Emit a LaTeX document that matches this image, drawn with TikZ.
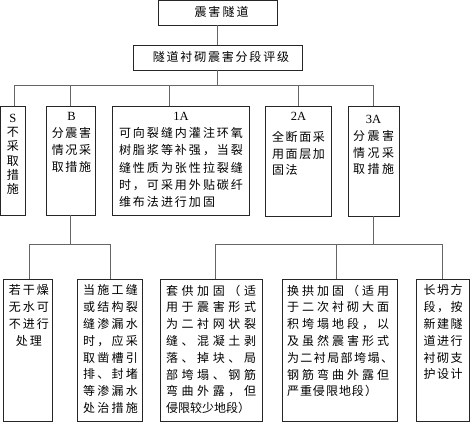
\documentclass[tikz,border=0pt]{standalone}
\usepackage{fontspec}
\setmainfont{Liberation Serif}
\newfontfamily\cjk{Noto Sans CJK SC}
\newcommand\st{\rule[-3pt]{0pt}{11pt}}
\newcommand\lat[1]{{\rmfamily\fontsize{12.5}{14}\selectfont #1}\st}
\ExplSyntaxOn
\NewDocumentCommand\SPline{O{1.6pt}m}{\st \tl_map_inline:nn {#2}{##1\hspace{#1}}\unskip}
\NewDocumentCommand\JUline{mm}{\makebox[#1][s]{\st \tl_map_inline:nn {#2}{##1\hfil}\unskip}}
\ExplSyntaxOff
\begin{document}
\begin{tikzpicture}[x=1pt,y=-1pt,
  box/.style={draw=black!85, line width=0.9pt, inner sep=0pt, font=\cjk\fontsize{12}{14}\selectfont},
  conn/.style={draw=black!60, line width=0.8pt},
  txt/.style={inner sep=0pt, anchor=north, font=\cjk\fontsize{12}{#1}\selectfont},
  txt/.default=16.8]
\useasboundingbox (0,0) rectangle (470,423);
% boxes
\node[box, minimum width=119pt, minimum height=24.5pt] (n0) at (217.5,12.75) {\hspace*{8pt}\SPline[2pt]{震害隧道}};
\node[box, minimum width=169pt, minimum height=25pt] (n1) at (217.5,57.5) {\hspace*{7pt}\SPline[1.8pt]{隧道衬砌震害分段评级}};
\node[box, minimum width=24.5pt, minimum height=109pt] (bS) at (12.75,160.5) {};
\node[box, minimum width=49pt, minimum height=109pt] (bB) at (70.5,160.5) {};
\node[box, minimum width=137pt, minimum height=109pt] (b1A) at (180.5,160.5) {};
\node[box, minimum width=66pt, minimum height=110pt] (b2A) at (298,161) {};
\node[box, minimum width=51pt, minimum height=110pt] (b3A) at (373.5,161) {};
\node[box, minimum width=49pt, minimum height=142pt] (c1) at (27.5,350) {};
\node[box, minimum width=65pt, minimum height=142pt] (c2) at (109.5,350) {};
\node[box, minimum width=102pt, minimum height=142pt] (c3) at (211,350) {};
\node[box, minimum width=115pt, minimum height=142pt] (c4) at (339.5,350) {};
\node[box, minimum width=53.5pt, minimum height=142pt] (c5) at (442.75,350) {};
% texts
\node[txt=14.2, align=center] (tS) at (12.75,114) {\lat{S}\\\SPline{不}\\\SPline{采}\\\SPline{取}\\\SPline{措}\\\SPline{施}};
\node[txt=17, align=center] (tB) at (71.5,112) {\lat{B}\\\SPline{分震害}\\\SPline{情况采}\\\SPline{取措施}};
\node[txt=17.2, align=center] (t1A) at (181,112) {\lat{1A}\\
  \JUline{124pt}{可向裂缝内灌注环氧}\\
  \JUline{124pt}{树脂浆等补强，当裂}\\
  \JUline{124pt}{缝性质为张性拉裂缝}\\
  \JUline{124pt}{时，可采用外贴碳纤}\\
  \makebox[124pt][l]{\SPline[2pt]{维布法进行加固}}};
\node[txt, align=center] (t2A) at (298.5,112) {\lat{2A}\\[4pt]
  \JUline{53pt}{全断面采}\\
  \JUline{53pt}{用面层加}\\
  \makebox[53pt][l]{\SPline[1.7pt]{固法}}};
\node[txt, align=center] (t3A) at (373.5,115) {\lat{3A}\\
  \JUline{41pt}{分震害}\\\JUline{41pt}{情况采}\\\JUline{41pt}{取措施}};
\node[txt, align=center] (tc1) at (29,284.6) {\SPline[2pt]{若干燥}\\\SPline[2pt]{无水可}\\\SPline[2pt]{不进行}\\\SPline[2pt]{处理}};
\node[txt, align=center] (tc2) at (110.5,284.6) {\SPline[2.3pt]{当施工缝}\\\SPline[2.3pt]{或结构裂}\\\SPline[2.3pt]{缝渗漏水}\\\SPline[2.3pt]{时，应采}\\\SPline[2.3pt]{取凿槽引}\\\SPline[2.3pt]{排、封堵}\\\SPline[2.3pt]{等渗漏水}\\\SPline[2.3pt]{处治措施}};
\node[txt, align=left] (tc3) at (211,284.6) {\JUline{90pt}{套供加固（适}\\
  \JUline{90pt}{用于震害形式}\\
  \JUline{90pt}{为二衬网状裂}\\
  \JUline{90pt}{缝、混凝土剥}\\
  \JUline{90pt}{落、掉块、局}\\
  \JUline{90pt}{部垮塌、钢筋}\\
  \JUline{90pt}{弯曲外露，但}\\
  \SPline[0pt]{侵限较少地段）}};
\node[txt, align=left] (tc4) at (340,284.6) {\JUline{102pt}{换拱加固（适用}\\
  \JUline{102pt}{于二次衬砌大面}\\
  \JUline{102pt}{积垮塌地段，以}\\
  \JUline{102pt}{及虽然震害形式}\\
  \JUline{106pt}{为二衬局部垮塌、}\\
  \JUline{102pt}{钢筋弯曲外露但}\\
  \SPline[1pt]{严重侵限地段）}};
\node[txt, align=center] (tc5) at (443,284.6) {\JUline{39pt}{长坍方}\\\JUline{39pt}{段，按}\\\JUline{39pt}{新建隧}\\\JUline{39pt}{道进行}\\\JUline{39pt}{衬砌支}\\\JUline{39pt}{护设计}};
% connectors
\coordinate (jL) at (14,85);
\coordinate (jR) at (373.5,85);
\coordinate (j1A) at (169,85);
\draw[conn] (n0) -- (n1);
\draw[conn] (n1.south) -- (n1.south |- jL);
\draw[conn] (jL) -- (jR);
\draw[conn] (jL) -- (jL |- bS.north);
\draw[conn] (bB.north |- jL) -- (bB.north);
\draw[conn] (j1A) -- (j1A |- b1A.north);
\draw[conn] (b2A.north |- jL) -- (b2A.north);
\draw[conn] (jR) -- (b3A.north);
\coordinate (kL1) at (29,244);
\coordinate (kL2) at (110,244);
\coordinate (kR1) at (215,244);
\coordinate (kR3) at (336,244);
\coordinate (kR2) at (442,244);
\draw[conn] (bB.south) -- (bB.south |- kL1);
\draw[conn] (kL1) -- (kL2);
\draw[conn] (kL1) -- (kL1 |- c1.north);
\draw[conn] (kL2) -- (kL2 |- c2.north);
\draw[conn] (b3A.south) -- (b3A.south |- kR1);
\draw[conn] (kR1) -- (kR2);
\draw[conn] (kR1) -- (kR1 |- c3.north);
\draw[conn] (kR3) -- (kR3 |- c4.north);
\draw[conn] (kR2) -- (kR2 |- c5.north);
\end{tikzpicture}
\end{document}
